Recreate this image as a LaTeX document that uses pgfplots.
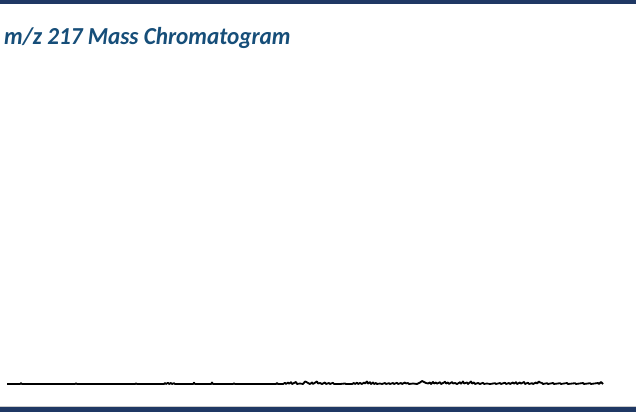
\documentclass[border=0pt]{standalone}
\usepackage{pgfplots}
\pgfplotsset{compat=1.18}
\usepackage{fontspec}
\setmainfont{Carlito}
\definecolor{navy}{RGB}{31,56,100}
\definecolor{titleblue}{RGB}{22,78,121}
\begin{document}
\begin{tikzpicture}[x=1pt,y=1pt]
\useasboundingbox (0,0) rectangle (636,412);
\fill[white] (0,0) rectangle (636,412);
\fill[navy] (0,408) rectangle (636,412);
\fill[navy] (0,0) rectangle (636,5);
\fill[gray!40] (0,5) rectangle (636,6);
\node[anchor=base west, inner sep=0pt, text=titleblue, xscale=0.95, font=\fontsize{24.4}{28}\selectfont\bfseries\itshape] at (4,367) {m/z 217 Mass Chromatogram};
\begin{axis}[at={(7pt,28pt)}, anchor=south west, scale only axis, width=596pt, height=300pt,
  xmin=7, xmax=603, ymin=0, ymax=300, axis lines=none, clip=false]
\addplot[black, line width=1.8pt, line join=round] coordinates {
(7,0)(20,0)(21,0.8)(22,0)(75,0)(76,0.7)(77,0)(135,0)(136,0.6)(137,0)(164,0)(165,1)(166,0)(168,1.2)(169,0)(171,1)(172,0)(174,0.8)(175,0)(193,0)(194,1.3)(195,0)(211,0)(212,1.5)(213,0)(233,0)(234,0.7)(235,0)(276,0)(277,1)(278,0)(283,0)(285,1.2)(286,0)(288,1.5)(289,0.3)(291,1.8)(292,0)(294,1)(296,2)(297,0)(300,0.5)(303,0)(305,2.5)(306,2.2)(308,1)(310,0)(312,1.5)(313,0)(316,2)(317,2.5)(318,0.5)(320,1)(322,0)(325,1.5)(326,0)(329,1)(330,0)(333,1.2)(334,0)(340,0)(345,0.5)(346,0)(352,0)(354,1)(355,0)(357,1.3)(358,0)(360,1)(362,0)(364,1.5)(365,0.5)(367,2.5)(368,0.5)(370,1.8)(371,0)(373,1.5)(374,0)(376,1)(377,0)(380,0.5)(382,0)(385,1)(386,0)(389,0.8)(390,0)(393,1)(394,0)(397,1.2)(398,0)(401,1)(402,0)(405,1.5)(406,0.5)(408,1)(409,0)(413,0.5)(417,0)(420,1.5)(422,3)(424,2)(426,1)(428,0.5)(430,1.5)(431,0)(433,2)(434,0.5)(436,1.5)(437,0.3)(440,1.8)(441,0)(443,1)(445,2.2)(446,0.5)(448,1.5)(449,0)(452,2)(453,0.5)(455,1)(457,0)(460,1.8)(461,0.3)(463,2.5)(464,0.5)(467,1.5)(468,0)(471,2.5)(472,0.5)(474,1.5)(475,0)(478,1)(480,0)(483,1.2)(484,0)(487,0.5)(490,0)(495,0.8)(496,0)(500,1)(501,0)(505,1.3)(506,0)(509,1)(510,0)(513,1.5)(514,0.3)(516,1.8)(517,0)(520,1.5)(521,0.3)(524,2)(525,0)(528,1.3)(529,0)(532,0.8)(533,0)(536,1.5)(537,0.5)(539,2.5)(540,1.5)(542,1)(543,0)(547,0.8)(548,0)(553,1)(554,0)(560,0.8)(561,0)(567,1)(568,0)(575,0.8)(576,0)(583,1)(584,0)(590,0.8)(591,0)(598,1)(599,0)(601,2)(602,1)(603,0)
};
\end{axis}
\end{tikzpicture}
\end{document}
